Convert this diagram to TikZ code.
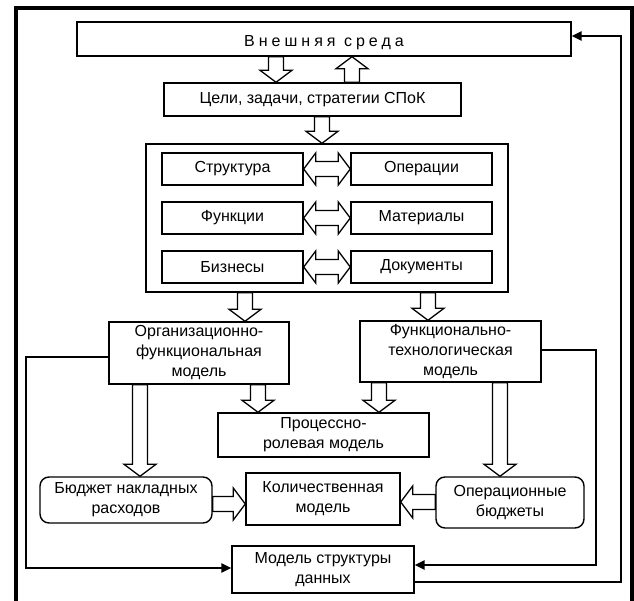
\documentclass[tikz,border=0pt]{standalone}
\usepackage{fontspec}
\setmainfont{Liberation Sans}
\usetikzlibrary{arrows.meta,calc}
\def\sw{7.5pt}
\def\hw{16pt}
\def\hl{12pt}
\newcommand\blockarrow[2]{%
  \draw[blk] let \p1=#1, \p2=#2, \n1={atan2(\y2-\y1,\x2-\x1)}, \n2={veclen(\x2-\x1,\y2-\y1)} in
    [shift={(\p1)}, rotate=\n1]
    (0pt,-\sw) -- ({\n2-\hl},-\sw) -- ({\n2-\hl},-\hw) -- (\n2,0pt) -- ({\n2-\hl},\hw) -- ({\n2-\hl},\sw) -- (0pt,\sw) -- cycle;
}
\newcommand\dblarrow[2]{%
  \draw[blk] let \p1=#1, \p2=#2, \n1={atan2(\y2-\y1,\x2-\x1)}, \n2={veclen(\x2-\x1,\y2-\y1)} in
    [shift={(\p1)}, rotate=\n1]
    (0pt,0pt) -- (\hl,-\hw) -- (\hl,-\sw) -- ({\n2-\hl},-\sw) -- ({\n2-\hl},-\hw) -- (\n2,0pt) -- ({\n2-\hl},\hw) -- ({\n2-\hl},\sw) -- (\hl,\sw) -- (\hl,\hw) -- cycle;
}
\begin{document}
\begin{tikzpicture}[x=1pt,y=-1pt,
  box/.style={draw=black, line width=1.4pt, fill=white, inner sep=0pt, align=center,
    font=\fontsize{16}{20}\selectfont},
  rbox/.style={box, rounded corners=9pt},
  blk/.style={draw=black, fill=white, line width=1.3pt, line join=miter},
  fb/.style={draw=black, line width=2.6pt, -{Triangle[length=10pt,width=9pt]}},
  frame/.style={draw=black, line width=4pt}]
\useasboundingbox (0,0) rectangle (634,601);
\draw[frame] (15.5,601) -- (15.5,8.5) -- (631.5,8.5) -- (631.5,601);

\node[box, minimum width=494pt, minimum height=34pt] (ext) at (324,39)
  {\raisebox{-4pt}[\height][\depth]{\addfontfeature{LetterSpace=25}Внешняя среда}};
\node[box, minimum width=297pt, minimum height=33pt] (goal) at (312.5,99.5)
  {Цели, задачи, стратегии СПоК};
\node[box, minimum width=362pt, minimum height=148pt] (big) at (327,218) {};
\node[box, minimum width=141pt, minimum height=32pt] (s1) at (232.5,169) {Структура};
\node[box, minimum width=141pt, minimum height=32pt] (o1) at (421.5,169) {Операции};
\node[box, minimum width=141pt, minimum height=32pt] (s2) at (232.5,218) {Функции};
\node[box, minimum width=141pt, minimum height=32pt] (o2) at (421.5,218) {Материалы};
\node[box, minimum width=141pt, minimum height=32pt] (s3) at (232.5,267) {Бизнесы};
\node[box, minimum width=141pt, minimum height=32pt] (o3) at (421.5,267) {Документы};
\node[box, minimum width=180pt, minimum height=62pt] (org) at (199,353)
  {Организационно-\\функциональная\\модель};
\node[box, minimum width=181pt, minimum height=61pt] (fun) at (450.5,351.5)
  {Функционально-\\технологическая\\модель};
\node[box, minimum width=211pt, minimum height=44pt] (proc) at (323.5,435)
  {Процессно-\\ролевая модель};
\node[rbox, minimum width=172pt, minimum height=46pt] (bud) at (126,500)
  {Бюджет накладных\\расходов};
\node[box, minimum width=154pt, minimum height=52pt] (qty) at (323,499)
  {Количественная\\модель};
\node[rbox, minimum width=148pt, minimum height=51pt] (opb) at (510,502.5)
  {Операционные\\бюджеты};
\node[box, minimum width=182pt, minimum height=47pt] (dat) at (323,569.5)
  {Модель структуры\\данных};

\coordinate (xa) at (276,0);
\coordinate (xb) at (352,0);
\coordinate (xc) at (322,0);
\coordinate (xd) at (245,0);
\coordinate (xe) at (428,0);
\coordinate (xf) at (258,0);
\coordinate (xg) at (379,0);
\coordinate (xh) at (140,0);
\coordinate (xi) at (500,0);
\coordinate (ya) at (0,504);
\coordinate (yb) at (0,502);

\blockarrow{(ext.south -| xa)}{(goal.north -| xa)}
\blockarrow{(goal.north -| xb)}{(ext.south -| xb)}
\blockarrow{(goal.south -| xc)}{(big.north -| xc)}
\dblarrow{(s1.east)}{(o1.west)}
\dblarrow{(s2.east)}{(o2.west)}
\dblarrow{(s3.east)}{(o3.west)}
\blockarrow{(big.south -| xd)}{(org.north -| xd)}
\blockarrow{(big.south -| xe)}{(fun.north -| xe)}
\blockarrow{(org.south -| xf)}{(proc.north -| xf)}
\blockarrow{(fun.south -| xg)}{(proc.north -| xg)}
\blockarrow{(org.south -| xh)}{(bud.north -| xh)}
\blockarrow{(fun.south -| xi)}{(opb.north -| xi)}
\blockarrow{(bud.east |- ya)}{(qty.west |- ya)}
\blockarrow{(opb.west |- yb)}{(qty.east |- yb)}

\coordinate (L1) at (26,0);
\coordinate (R1) at (596,0);
\coordinate (R2) at (621,0);
\coordinate (y1) at (0,357);
\coordinate (y2) at (0,568);
\coordinate (y3) at (0,350);
\coordinate (y4) at (0,565);
\coordinate (y5) at (0,582);
\coordinate (y6) at (0,36);
\draw[fb] (org.west |- y1) -- (L1 |- y1) -- (L1 |- y2) -- (dat.west |- y2);
\draw[fb] (fun.east |- y3) -- (R1 |- y3) -- (R1 |- y4) -- (dat.east |- y4);
\draw[fb] (dat.east |- y5) -- (R2 |- y5) -- (R2 |- y6) -- (ext.east |- y6);
\end{tikzpicture}
\end{document}
